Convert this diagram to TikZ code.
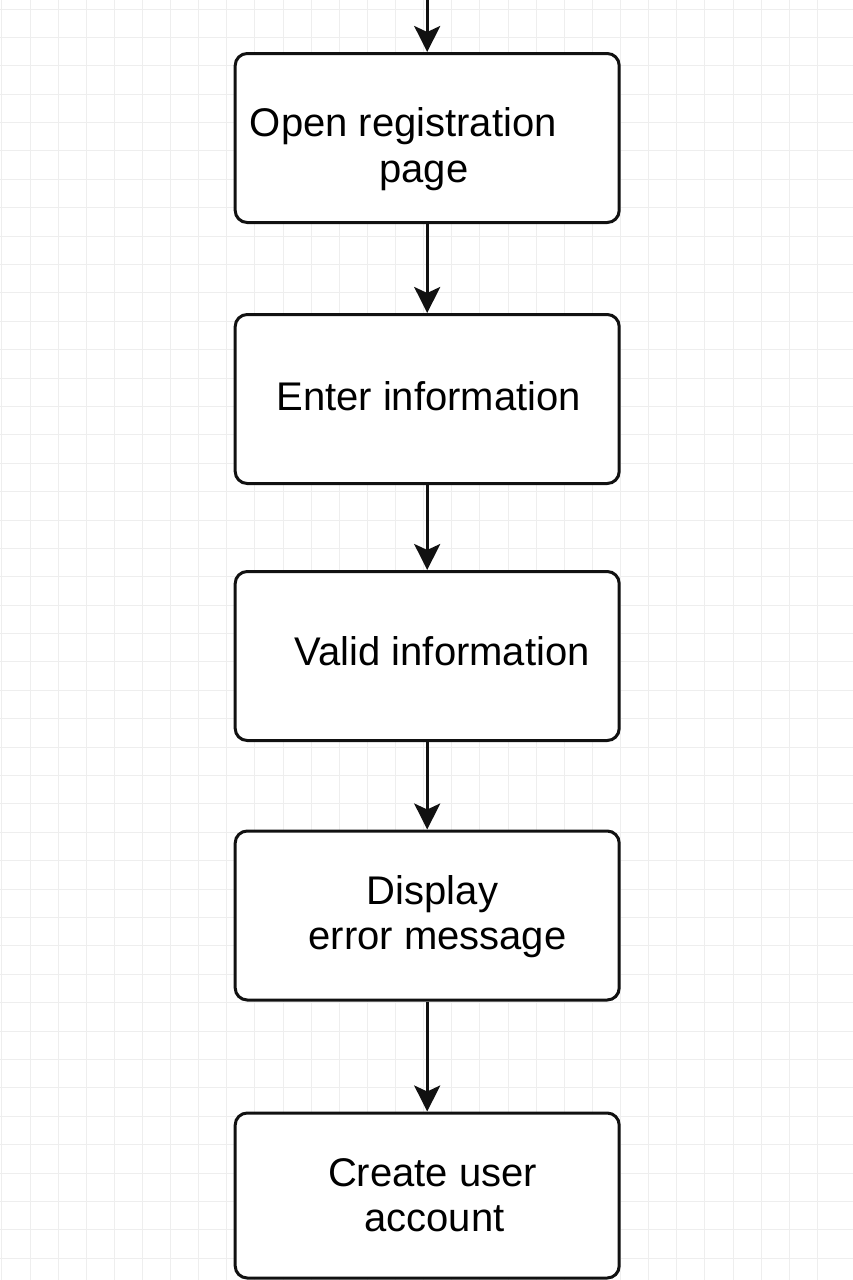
\documentclass[tikz,border=0pt]{standalone}
\usepackage{fontspec}
\setmainfont{Liberation Sans}
\usetikzlibrary{arrows.meta}
\definecolor{gridc}{HTML}{EEEEEE}
\definecolor{inkc}{HTML}{111111}
\tikzset{
  stepbox/.style={draw=inkc, line width=3pt, rounded corners=12pt, fill=white},
  lbl/.style={inner sep=0pt, anchor=base, text=black, font=\fontsize{40}{46}\selectfont},
  flow/.style={draw=inkc, line width=2.8pt, -{Stealth[length=26pt,width=26pt,inset=6pt]}}
}
\begin{document}
\begin{tikzpicture}[x=1pt,y=-1pt]
\useasboundingbox (0,0) rectangle (853,1280);
\fill[white] (0,0) rectangle (853,1280);
% grid
\foreach \k in {0,...,29} {
  \draw[gridc, line width=1pt] ({1.88+28.12*\k},0) -- ({1.88+28.12*\k},1280);
}
\foreach \k in {0,...,44} {
  \draw[gridc, line width=1pt] (0,{9+28.39*\k}) -- (853,{9+28.39*\k});
}
% boxes
\node[stepbox, minimum width=384pt, minimum height=169pt] (b1) at (427.2,138) {};
\node[stepbox, minimum width=384pt, minimum height=169pt] (b2) at (427.2,399) {};
\node[stepbox, minimum width=384pt, minimum height=169pt] (b3) at (427.2,656) {};
\node[stepbox, minimum width=384pt, minimum height=169pt] (b4) at (427.2,915.5) {};
\node[stepbox, minimum width=384pt, minimum height=165pt] (b5) at (427.2,1195.5) {};
\coordinate (start) at (427.2,0);
% texts
\node[lbl] (t1a) at (403.3,136.7) {Open registration};
\node[lbl] (t1b) at (424,182.7) {page};
\node[lbl] (t2) at (428.7,410) {Enter information};
\node[lbl] (t3) at (442.2,665) {Valid information};
\node[lbl] (t4a) at (432.5,904.3) {Display};
\node[lbl] (t4b) at (437.5,949.3) {error message};
\node[lbl] (t5a) at (432.5,1186.7) {Create user};
\node[lbl] (t5b) at (434.5,1231.7) {account};
% connectors
\draw[flow] (start) -- (b1.north);
\draw[flow] (b1.south) -- (b2.north);
\draw[flow] (b2.south) -- (b3.north);
\draw[flow] (b3.south) -- (b4.north);
\draw[flow] (b4.south) -- (b5.north);
\end{tikzpicture}
\end{document}
